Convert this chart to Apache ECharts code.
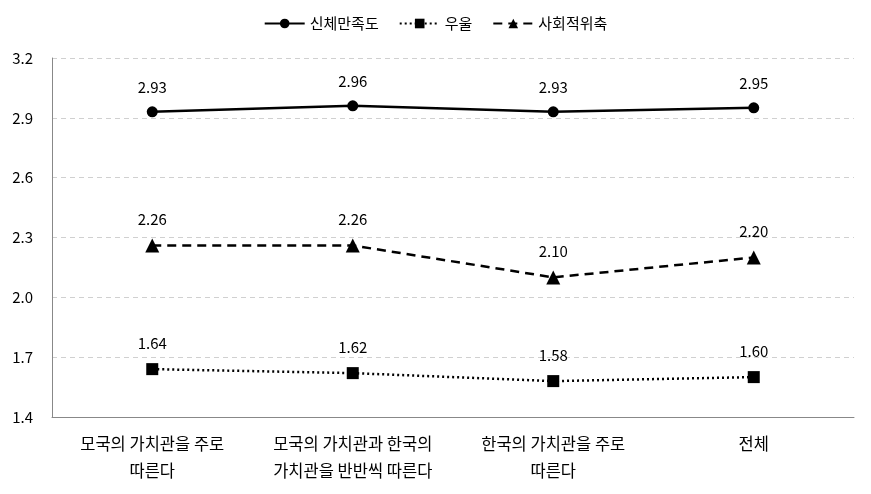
<!DOCTYPE html>
<html><head><meta charset="utf-8">
<script src="https://cdn.jsdelivr.net/npm/echarts@6/dist/echarts.min.js"></script>
<style>html,body{margin:0;padding:0;background:#fff}#c{width:871px;height:494px}</style>
</head><body><div id="c"></div>
<script>
const categories = ['모국의 가치관을 주로\n따른다', '모국의 가치관과 한국의\n가치관을 반반씩 따른다', '한국의 가치관을 주로\n따른다', '전체'];
const bodySatisfaction = [2.93, 2.96, 2.93, 2.95];
const depression = [1.64, 1.62, 1.58, 1.60];
const socialWithdrawal = [2.26, 2.26, 2.10, 2.20];
const seriesNames = ['신체만족도', '우울', '사회적위축'];
const yTicks = {min: 1.4, max: 3.2, interval: 0.3};

const font = '"Noto Sans CJK KR", "Noto Sans", sans-serif';
const label = {show: true, position: 'top', distance: 12, color: '#000', fontSize: 15, fontFamily: font, formatter: p => p.value.toFixed(2)};
const chart = echarts.init(document.getElementById('c'));
chart.setOption({
  animation: false,
  textStyle: {fontFamily: font},
  legend: {
    top: 11, left: 'center', itemWidth: 40, itemHeight: 12, itemGap: 20,
    textStyle: {fontSize: 15, color: '#000', fontFamily: font},
    data: seriesNames
  },
  grid: {left: 52, right: 17, top: 58, bottom: 77, containLabel: false},
  xAxis: {
    type: 'category', data: categories, boundaryGap: true,
    axisLine: {lineStyle: {color: '#888'}}, axisTick: {show: false},
    axisLabel: {color: '#000', fontSize: 16.5, lineHeight: 27, margin: 13, fontFamily: font, interval: 0}
  },
  yAxis: {
    type: 'value', min: yTicks.min, max: yTicks.max, interval: yTicks.interval,
    axisLine: {show: true, lineStyle: {color: '#888'}}, axisTick: {show: false},
    axisLabel: {color: '#000', fontSize: 15, margin: 19, fontFamily: font, formatter: v => v.toFixed(1)},
    splitLine: {lineStyle: {color: '#d0d0d0', type: [5, 4]}}
  },
  series: [
    {name: seriesNames[0], type: 'line', data: bodySatisfaction, symbol: 'circle', symbolSize: 11,
     itemStyle: {color: '#000'}, lineStyle: {color: '#000', width: 2.5, type: 'solid'}, label},
    {name: seriesNames[1], type: 'line', data: depression, symbol: 'rect', symbolSize: 12,
     itemStyle: {color: '#000'}, lineStyle: {color: '#000', width: 2.5, type: [2, 3]}, label},
    {name: seriesNames[2], type: 'line', data: socialWithdrawal, symbol: 'triangle', symbolSize: 14,
     itemStyle: {color: '#000'}, lineStyle: {color: '#000', width: 2.5, type: [9, 6]}, label}
  ]
});
</script></body></html>
